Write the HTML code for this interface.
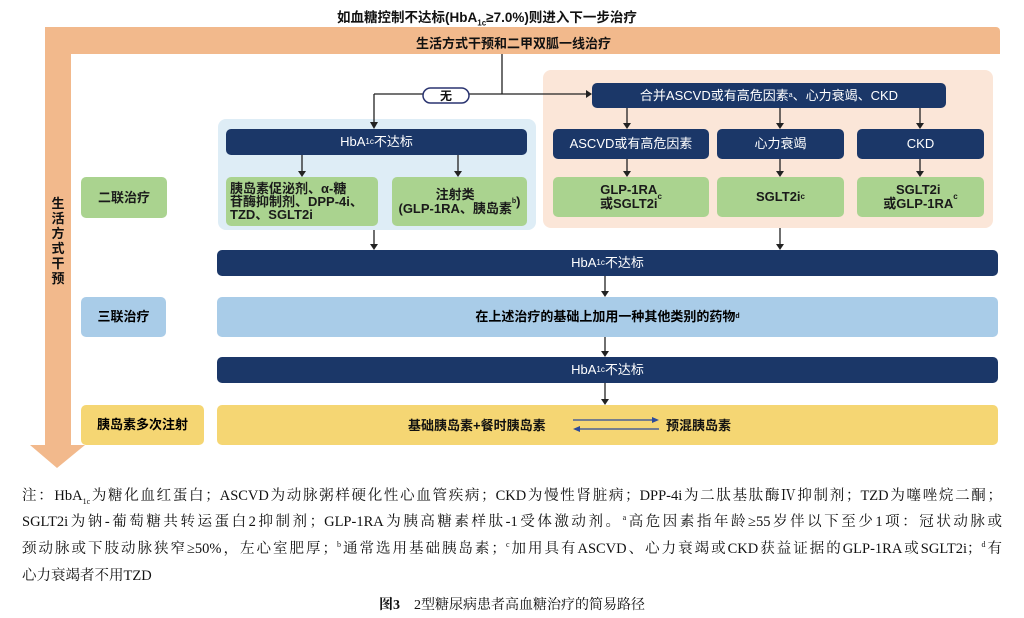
<!DOCTYPE html>
<html><head><meta charset="utf-8"><style>
body{margin:0;width:1024px;height:618px;background:#fff;position:relative;overflow:hidden;font-family:"Liberation Sans","Noto Sans CJK SC",sans-serif}
.a{position:absolute;box-sizing:border-box;display:flex;align-items:center;justify-content:center;text-align:center;font-weight:bold;font-size:13px;line-height:14px;border-radius:5px}
.n{background:#1b3768;color:#fff}
.g{background:#aad38f;color:#1a1a1a}
.t{position:absolute;font-weight:bold;font-size:13px;color:#111;white-space:nowrap}
sub{font-size:8px;line-height:0}
sup{line-height:0}
.fl{position:absolute;left:22px;width:980px;font-family:"Liberation Serif","Noto Serif CJK SC",serif;font-size:14.5px;line-height:18px;color:#111;text-align:justify;text-align-last:justify;white-space:nowrap}
</style></head><body>
<div class="t" style="left:337px;top:6px;font-size:13.5px">如血糖控制不达标(HbA<sub>1c</sub>≥7.0%)则进入下一步治疗</div>
<div style="position:absolute;left:45px;top:27px;width:955px;height:27px;background:#f2b98c;border-radius:4px 4px 0 0"></div>
<div style="position:absolute;left:45px;top:27px;width:26px;height:420px;background:#f2b98c"></div>
<div class="t" style="left:416px;top:33px">生活方式干预和二甲双胍一线治疗</div>
<div class="t" style="left:50px;top:196px;width:16px;white-space:normal;line-height:15px;font-size:13px;text-align:center">生活方式干预</div>
<div style="position:absolute;left:218px;top:119px;width:318px;height:111px;background:#deedf6;border-radius:8px"></div>
<div style="position:absolute;left:543px;top:70px;width:450px;height:158px;background:#fbe6d8;border-radius:8px"></div>
<div class="a n" style="left:226px;top:129px;width:301px;height:26px;font-weight:normal">HbA<sub>1c</sub>不达标</div>
<div class="a g" style="left:226px;top:177px;width:152px;height:49px;justify-content:flex-start;text-align:left;padding-left:4px;line-height:13px">胰岛素促泌剂、α-糖<br>苷酶抑制剂、DPP-4i、<br>TZD、SGLT2i</div>
<div class="a g" style="left:392px;top:177px;width:135px;height:49px">注射类<br>(GLP-1RA、胰岛素<sup style="font-size:7px">b</sup>)</div>
<div class="a g" style="left:81px;top:177px;width:86px;height:41px">二联治疗</div>
<div class="a n" style="left:592px;top:83px;width:354px;height:25px;font-weight:normal">合并ASCVD或有高危因素<sup style="font-size:7px">a</sup>、心力衰竭、CKD</div>
<div class="a n" style="left:553px;top:129px;width:156px;height:30px;font-weight:normal">ASCVD或有高危因素</div>
<div class="a n" style="left:717px;top:129px;width:127px;height:30px;font-weight:normal">心力衰竭</div>
<div class="a n" style="left:857px;top:129px;width:127px;height:30px;font-weight:normal">CKD</div>
<div class="a g" style="left:553px;top:177px;width:156px;height:40px">GLP-1RA<br>或SGLT2i<sup style="font-size:8px">c</sup></div>
<div class="a g" style="left:717px;top:177px;width:127px;height:40px">SGLT2i<sup style="font-size:8px">c</sup></div>
<div class="a g" style="left:857px;top:177px;width:127px;height:40px">SGLT2i<br>或GLP-1RA<sup style="font-size:8px">c</sup></div>
<div class="a n" style="left:217px;top:250px;width:781px;height:26px;font-weight:normal">HbA<sub>1c</sub>不达标</div>
<div class="a" style="left:81px;top:297px;width:85px;height:40px;background:#a9cce8">三联治疗</div>
<div class="a" style="left:217px;top:297px;width:781px;height:40px;background:#a9cce8">在上述治疗的基础上加用一种其他类别的药物<sup style="font-size:7px">d</sup></div>
<div class="a n" style="left:217px;top:357px;width:781px;height:26px;font-weight:normal">HbA<sub>1c</sub>不达标</div>
<div class="a" style="left:81px;top:405px;width:123px;height:40px;background:#f5d673">胰岛素多次注射</div>
<div style="position:absolute;left:217px;top:405px;width:781px;height:40px;background:#f5d673;border-radius:5px"></div>
<div class="t" style="left:408px;top:415px">基础胰岛素+餐时胰岛素</div>
<div class="t" style="left:666px;top:415px">预混胰岛素</div>
<svg width="1024" height="618" style="position:absolute;left:0;top:0" fill="#222">
<polygon points="30,445 85,445 57,468" fill="#f2b98c"/>
<g stroke="#222" stroke-width="1.3" fill="none">
<path d="M502 54V94M374 94H586M374 94V122"/>
<path d="M302 155V172M458 155V172M374 230V246M627 108V125M780 108V125M920 108V125M627 159V173M780 159V173M920 159V173M780 228V246M605 276V292M605 337V353M605 383V400"/>
</g>
<rect x="423" y="88" width="46" height="15" rx="7.5" fill="#fff" stroke="#2a3470" stroke-width="1.5"/>
<text x="446" y="100" text-anchor="middle" font-size="12" font-weight="bold" font-family="Noto Sans CJK SC" fill="#111">无</text>
<g fill="#222">
<polygon points="370,122 378,122 374,129"/><polygon points="586,90 592,94 586,98"/>
<polygon points="298,171 306,171 302,177"/><polygon points="454,171 462,171 458,177"/>
<polygon points="370,244 378,244 374,250"/>
<polygon points="623,123 631,123 627,129"/><polygon points="776,123 784,123 780,129"/><polygon points="916,123 924,123 920,129"/>
<polygon points="623,171 631,171 627,177"/><polygon points="776,171 784,171 780,177"/><polygon points="916,171 924,171 920,177"/>
<polygon points="776,244 784,244 780,250"/>
<polygon points="601,291 609,291 605,297"/><polygon points="601,351 609,351 605,357"/><polygon points="601,399 609,399 605,405"/>
</g>
<g stroke="#2b4a9a" stroke-width="1.3" fill="#2b4a9a">
<path d="M573 420H652" fill="none"/><polygon points="652,417 659,420 652,423" stroke="none"/>
<path d="M580 429H659" fill="none"/><polygon points="580,426 573,429 580,432" stroke="none"/>
</g>
</svg>
<div class="fl" style="top:487px">注：HbA<sub>1c</sub>为糖化血红蛋白；ASCVD为动脉粥样硬化性心血管疾病；CKD为慢性肾脏病；DPP-4i为二肽基肽酶Ⅳ抑制剂；TZD为噻唑烷二酮；</div>
<div class="fl" style="top:513px">SGLT2i为钠-葡萄糖共转运蛋白2抑制剂；GLP-1RA为胰高糖素样肽-1受体激动剂。<sup style="font-size:8px">a</sup>高危因素指年龄≥55岁伴以下至少1项：冠状动脉或</div>
<div class="fl" style="top:540px">颈动脉或下肢动脉狭窄≥50%，左心室肥厚；<sup style="font-size:8px">b</sup>通常选用基础胰岛素；<sup style="font-size:8px">c</sup>加用具有ASCVD、心力衰竭或CKD获益证据的GLP-1RA或SGLT2i；<sup style="font-size:8px">d</sup>有</div>
<div class="fl" style="top:567px;text-align-last:left">心力衰竭者不用TZD</div>
<div style="position:absolute;left:0;width:1024px;top:594px;text-align:center;font-family:'Liberation Serif','Noto Serif CJK SC',serif;font-size:14px;color:#111"><b>图3</b>　2型糖尿病患者高血糖治疗的简易路径</div>
</body></html>
